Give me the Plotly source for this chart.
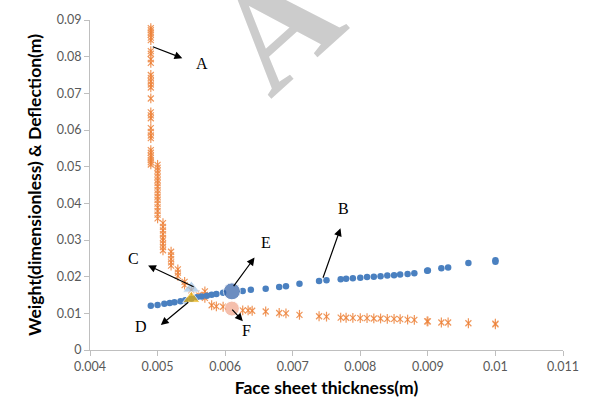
import plotly.graph_objects as go

# Deflection series (orange stars)
defl_x = [0.0049]*30 + [0.0050]*17 + [0.00508]*9 + [0.0052]*5 + [0.0053]*3 + [0.0054]*2 + \
         [0.0055, 0.00561, 0.0057, 0.0057, 0.0057, 0.0058, 0.00587, 0.00597,
          0.00626, 0.00634, 0.0064, 0.0066, 0.0068, 0.0069, 0.0071, 0.00739, 0.0075,
          0.00771, 0.00779, 0.00789, 0.0080, 0.0081, 0.0082, 0.0083, 0.0084, 0.0085, 0.00859, 0.0087, 0.0088,
          0.00899, 0.0090, 0.0092, 0.0093, 0.0096, 0.0100, 0.0100]
defl_y = [0.0878, 0.0872, 0.0866, 0.0860, 0.0852, 0.0845, 0.0815, 0.0808, 0.0793, 0.0783,
          0.0750, 0.0742, 0.0733, 0.0724, 0.0716, 0.0686, 0.0648, 0.0640, 0.0632, 0.0605,
          0.0595, 0.0585, 0.0578, 0.0545, 0.0538, 0.0530, 0.0524, 0.0518, 0.0512, 0.0506] + \
         [0.0505, 0.0497, 0.0489, 0.0481, 0.0472, 0.0463, 0.0455, 0.0446, 0.0436, 0.0427,
          0.0418, 0.0409, 0.0399, 0.0389, 0.0379, 0.0369, 0.0359] + \
         [0.0346, 0.0336, 0.0326, 0.0316, 0.0306, 0.0299, 0.0290, 0.0281, 0.0272] + \
         [0.0268, 0.0258, 0.0248, 0.0239, 0.0230] + \
         [0.0220, 0.0211, 0.0202] + [0.0186, 0.0177] + \
         [0.0163, 0.0150, 0.0160, 0.0150, 0.0142, 0.0122, 0.0119, 0.0118,
          0.0108, 0.0108, 0.0107, 0.0105, 0.0101, 0.0100, 0.0096, 0.0092, 0.0091,
          0.00885, 0.0088, 0.00875, 0.0087, 0.0087, 0.0086, 0.0086, 0.0085, 0.0085, 0.0084, 0.0083, 0.0082,
          0.0078, 0.0078, 0.0075, 0.0075, 0.0073, 0.0072, 0.0070]

# Weight series (blue dots)
weight_x = [0.0049, 0.0050, 0.0051, 0.00518, 0.00525, 0.00534, 0.00541, 0.0055,
            0.00558, 0.00565, 0.00573, 0.0058, 0.00587, 0.00597,
            0.00626, 0.00638, 0.0066, 0.0068, 0.0069, 0.0071, 0.00739, 0.0075,
            0.00771, 0.00779, 0.00789, 0.0080, 0.0081, 0.0082, 0.0083, 0.0084, 0.0085,
            0.00859, 0.0087, 0.0088, 0.00899, 0.0090, 0.0092, 0.0093, 0.0096, 0.0100, 0.0100]
weight_y = [0.0121, 0.0123, 0.0126, 0.0128, 0.0130, 0.0133, 0.0136, 0.0140,
            0.0144, 0.0146, 0.0148, 0.0151, 0.0153, 0.0156,
            0.0161, 0.0164, 0.0167, 0.0172, 0.0174, 0.0181, 0.0188, 0.0190,
            0.0193, 0.0194, 0.0196, 0.0197, 0.0199, 0.0200, 0.0201, 0.0203, 0.0204,
            0.0206, 0.0207, 0.0209, 0.0216, 0.0217, 0.0223, 0.0225, 0.0237, 0.0241, 0.0245]

# Highlighted points
special_names = ["C", "D", "E", "F"]
special_x = [0.0055, 0.0055, 0.0061, 0.0061]
special_y = [0.0168, 0.0140, 0.0160, 0.0113]

# Labels with arrows: head position (data), tail offset (px), label position (data)
label_names = ["A", "B", "C", "D", "E", "F"]
head_x = [0.005366, 0.007707, 0.00486, 0.005048, 0.006435, 0.006262]
head_y = [0.0796, 0.0332, 0.02307, 0.0068, 0.0252, 0.00787]
tail_dx = [-31, -18, 47, 29, -22, -12]
tail_dy = [-12, 51, 22, -24, 30, -13]
text_x = [0.005655, 0.00775, 0.004643, 0.004759, 0.006608, 0.00632]
text_y = [0.07827, 0.0385, 0.02493, 0.00653, 0.0292, 0.0052]

fig = go.Figure()
orange = "#ED7D31"
fig.add_trace(go.Scatter(x=defl_x, y=defl_y, mode="markers",
                         marker=dict(symbol="x-thin-open", size=6, color=orange,
                                     line=dict(color=orange, width=1.2)),
                         opacity=0.8, showlegend=False))
fig.add_trace(go.Scatter(x=defl_x, y=defl_y, mode="markers",
                         marker=dict(symbol="line-ns-open", size=7, color=orange,
                                     line=dict(color=orange, width=1.2)),
                         opacity=0.8, showlegend=False))
fig.add_trace(go.Scatter(x=weight_x, y=weight_y, mode="markers",
                         marker=dict(symbol="circle", size=6.5, color="#4A80C0"),
                         showlegend=False))
fig.add_trace(go.Scatter(x=special_x, y=special_y, mode="markers",
                         marker=dict(symbol=["triangle-up", "triangle-up", "circle", "circle"],
                                     size=[15, 15, 17, 15],
                                     color=["#9DC3E6", "#EBAE00", "#2F5EA6", "#F2A58A"]),
                         text=special_names, showlegend=False))

annotations = []
# watermark
annotations.append(dict(x=0.00675, y=0.0885, xref="x", yref="y", text="<b>A</b>", showarrow=False,
                        textangle=-42, font=dict(family="Liberation Serif", size=150, color="#cccccc")))
for i in range(len(label_names)):
    annotations.append(dict(x=head_x[i], y=head_y[i], xref="x", yref="y", text="",
                            showarrow=True, ax=tail_dx[i], ay=tail_dy[i],
                            arrowhead=2, arrowsize=1.3, arrowwidth=1.2, arrowcolor="black"))
    annotations.append(dict(x=text_x[i], y=text_y[i], xref="x", yref="y", text=label_names[i],
                            showarrow=False,
                            font=dict(family="Liberation Serif", size=16, color="black")))

fig.update_layout(
    width=591, height=406,
    margin=dict(l=90, r=16, t=15, b=54),
    paper_bgcolor="white", plot_bgcolor="white",
    annotations=annotations,
    xaxis=dict(range=[0.004, 0.011], dtick=0.001, tick0=0.004, showgrid=False, zeroline=False,
               showline=True, linecolor="#bfbfbf", linewidth=1, ticks="outside", ticklen=5,
               tickcolor="#bfbfbf", tickfont=dict(family="Lato", size=12.5, color="#595959"),
               title=dict(text="<b>Face sheet thickness(m)</b>", standoff=8,
                          font=dict(family="Lato", size=17.5, color="black"))),
    yaxis=dict(range=[0, 0.09], dtick=0.01, showgrid=False, zeroline=False,
               showline=True, linecolor="#bfbfbf", linewidth=1, ticks="outside", ticklen=5,
               tickcolor="#bfbfbf", tickfont=dict(family="Lato", size=12.5, color="#595959"),
               title=dict(text="<b>Weight(dimensionless) & Deflection(m)</b>", standoff=10,
                          font=dict(family="Lato", size=17.5, color="black"))),
)

fig.write_html("out.html", config={"displayModeBar": False},
               post_script="document.body.style.margin='0';document.body.style.overflow='hidden';")
